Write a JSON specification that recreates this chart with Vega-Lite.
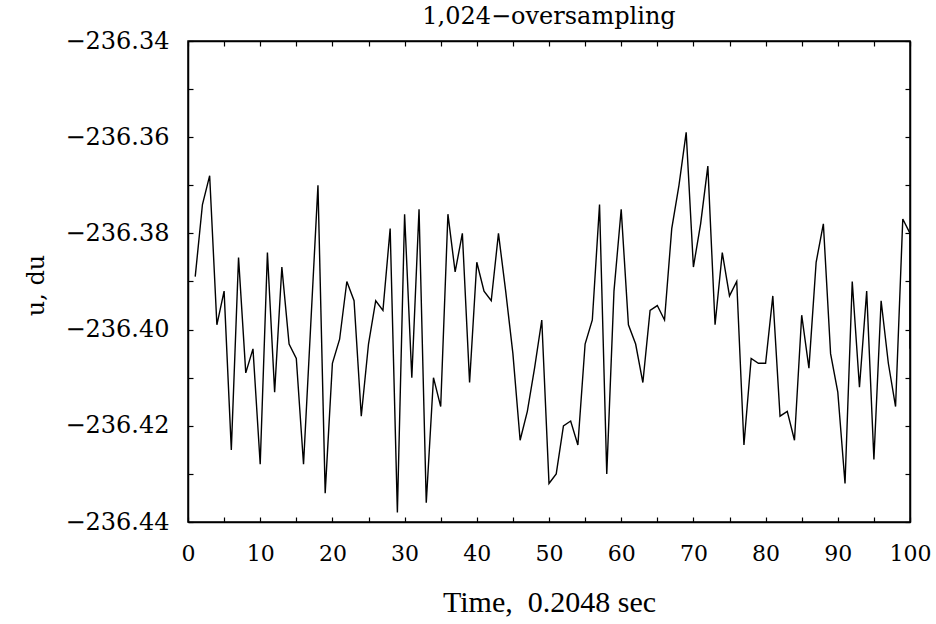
{
  "$schema": "https://vega.github.io/schema/vega-lite/v6.json",
  "width": 722,
  "height": 481,
  "autosize": {"type": "none"},
  "padding": {"left": 188, "top": 41, "right": 26, "bottom": 102},
  "background": "white",
  "title": {"text": "1,024−oversampling", "font": "DejaVu Serif", "fontSize": 24, "fontWeight": "normal", "color": "black", "anchor": "middle", "offset": 0},
  "config": {
    "view": {"stroke": "black", "strokeWidth": 1.5},
    "axis": {"grid": false, "domainColor": "black", "domainWidth": 1.5, "tickColor": "black", "tickWidth": 1.2, "tickSize": -5, "labelColor": "black", "titleColor": "black", "titleFontWeight": "normal"}
  },
  "data": {"values": [
    {"n":1,"t":1,"u":-236.389},{"n":2,"t":2,"u":-236.374},{"n":3,"t":3,"u":-236.368},{"n":4,"t":4,"u":-236.399},{"n":5,"t":5,"u":-236.392},
    {"n":6,"t":6,"u":-236.425},{"n":7,"t":7,"u":-236.385},{"n":8,"t":8,"u":-236.409},{"n":9,"t":9,"u":-236.404},{"n":10,"t":10,"u":-236.428},
    {"n":11,"t":11,"u":-236.384},{"n":12,"t":12,"u":-236.413},{"n":13,"t":13,"u":-236.387},{"n":14,"t":14,"u":-236.403},{"n":15,"t":15,"u":-236.406},
    {"n":16,"t":16,"u":-236.428},{"n":17,"t":17,"u":-236.399},{"n":18,"t":18,"u":-236.370},{"n":19,"t":19,"u":-236.434},{"n":20,"t":20,"u":-236.407},
    {"n":21,"t":21,"u":-236.402},{"n":22,"t":22,"u":-236.390},{"n":23,"t":23,"u":-236.394},{"n":24,"t":24,"u":-236.418},{"n":25,"t":25,"u":-236.403},
    {"n":26,"t":26,"u":-236.394},{"n":27,"t":27,"u":-236.396},{"n":28,"t":28,"u":-236.379},{"n":29,"t":29,"u":-236.438},{"n":30,"t":30,"u":-236.376},
    {"n":31,"t":31,"u":-236.410},{"n":32,"t":32,"u":-236.375},{"n":33,"t":33,"u":-236.436},{"n":34,"t":34,"u":-236.410},{"n":35,"t":35,"u":-236.416},
    {"n":36,"t":36,"u":-236.376},{"n":37,"t":37,"u":-236.388},{"n":38,"t":38,"u":-236.380},{"n":39,"t":39,"u":-236.411},{"n":40,"t":40,"u":-236.386},
    {"n":41,"t":41,"u":-236.392},{"n":42,"t":42,"u":-236.394},{"n":43,"t":43,"u":-236.380},{"n":44,"t":44,"u":-236.392},{"n":45,"t":45,"u":-236.405},
    {"n":46,"t":46,"u":-236.423},{"n":47,"t":47,"u":-236.417},{"n":48,"t":48,"u":-236.408},{"n":49,"t":49,"u":-236.398},{"n":50,"t":50,"u":-236.432},
    {"n":51,"t":51,"u":-236.430},{"n":52,"t":52,"u":-236.420},{"n":53,"t":53,"u":-236.419},{"n":54,"t":54,"u":-236.424},{"n":55,"t":55,"u":-236.403},
    {"n":56,"t":56,"u":-236.398},{"n":57,"t":57,"u":-236.374},{"n":58,"t":58,"u":-236.430},{"n":59,"t":59,"u":-236.392},{"n":60,"t":60,"u":-236.375},
    {"n":61,"t":61,"u":-236.399},{"n":62,"t":62,"u":-236.403},{"n":63,"t":63,"u":-236.411},{"n":64,"t":64,"u":-236.396},{"n":65,"t":65,"u":-236.395},
    {"n":66,"t":66,"u":-236.398},{"n":67,"t":67,"u":-236.379},{"n":68,"t":68,"u":-236.370},{"n":69,"t":69,"u":-236.359},{"n":70,"t":70,"u":-236.387},
    {"n":71,"t":71,"u":-236.378},{"n":72,"t":72,"u":-236.366},{"n":73,"t":73,"u":-236.399},{"n":74,"t":74,"u":-236.384},{"n":75,"t":75,"u":-236.393},
    {"n":76,"t":76,"u":-236.390},{"n":77,"t":77,"u":-236.424},{"n":78,"t":78,"u":-236.406},{"n":79,"t":79,"u":-236.407},{"n":80,"t":80,"u":-236.407},
    {"n":81,"t":81,"u":-236.393},{"n":82,"t":82,"u":-236.418},{"n":83,"t":83,"u":-236.417},{"n":84,"t":84,"u":-236.423},{"n":85,"t":85,"u":-236.397},
    {"n":86,"t":86,"u":-236.408},{"n":87,"t":87,"u":-236.386},{"n":88,"t":88,"u":-236.378},{"n":89,"t":89,"u":-236.405},{"n":90,"t":90,"u":-236.413},
    {"n":91,"t":91,"u":-236.432},{"n":92,"t":92,"u":-236.390},{"n":93,"t":93,"u":-236.412},{"n":94,"t":94,"u":-236.392},{"n":95,"t":95,"u":-236.427},
    {"n":96,"t":96,"u":-236.394},{"n":97,"t":97,"u":-236.407},{"n":98,"t":98,"u":-236.416},{"n":99,"t":99,"u":-236.377},{"n":100,"t":100,"u":-236.380},
    {"n":101,"t":100,"u":-236.404}
  ]},
  "layer": [
    {
      "mark": {"type": "line", "color": "black", "strokeWidth": 1.4, "clip": true},
      "encoding": {
        "x": {"field": "t", "type": "quantitative", "scale": {"domain": [0, 100], "nice": false, "zero": false},
          "axis": {"orient": "bottom", "values": [0,5,10,15,20,25,30,35,40,45,50,55,60,65,70,75,80,85,90,95,100],
            "labelExpr": "datum.value % 10 == 0 ? datum.label : ''", "labelFont": "DejaVu Serif", "labelFontSize": 22, "labelPadding": 26,
            "labelFlush": false, "labelOverlap": false,
            "title": "Time,\u00a0\u00a00.2048 sec", "titleFont": "Liberation Serif", "titleFontSize": 30, "titleX": 361, "titleY": 80, "titleBaseline": "middle", "titleAnchor": "middle"}},
        "y": {"field": "u", "type": "quantitative", "scale": {"domain": [-236.44, -236.34], "nice": false, "zero": false},
          "axis": {"orient": "left", "values": [-236.44,-236.43,-236.42,-236.41,-236.40,-236.39,-236.38,-236.37,-236.36,-236.35,-236.34],
            "labelExpr": "abs(round(datum.value*100)) % 2 == 0 ? format(datum.value, '.2f') : ''", "labelFont": "DejaVu Serif", "labelFontSize": 24, "labelPadding": 24,
            "labelFlush": false, "labelOverlap": false,
            "title": "u, du", "titleFont": "DejaVu Serif", "titleFontSize": 24, "titleX": -152, "titleY": 244, "titleBaseline": "middle", "titleAnchor": "middle", "titleAngle": -90}},
        "order": {"field": "n", "type": "quantitative"}
      }
    },
    {
      "mark": {"type": "line", "opacity": 0},
      "encoding": {
        "x": {"field": "t", "type": "quantitative",
          "axis": {"orient": "top", "values": [0,5,10,15,20,25,30,35,40,45,50,55,60,65,70,75,80,85,90,95,100], "labels": false, "title": null}},
        "y": {"field": "u", "type": "quantitative",
          "axis": {"orient": "right", "values": [-236.44,-236.43,-236.42,-236.41,-236.40,-236.39,-236.38,-236.37,-236.36,-236.35,-236.34], "labels": false, "title": null}},
        "order": {"field": "n", "type": "quantitative"}
      }
    }
  ],
  "resolve": {"axis": {"x": "independent", "y": "independent"}}
}
